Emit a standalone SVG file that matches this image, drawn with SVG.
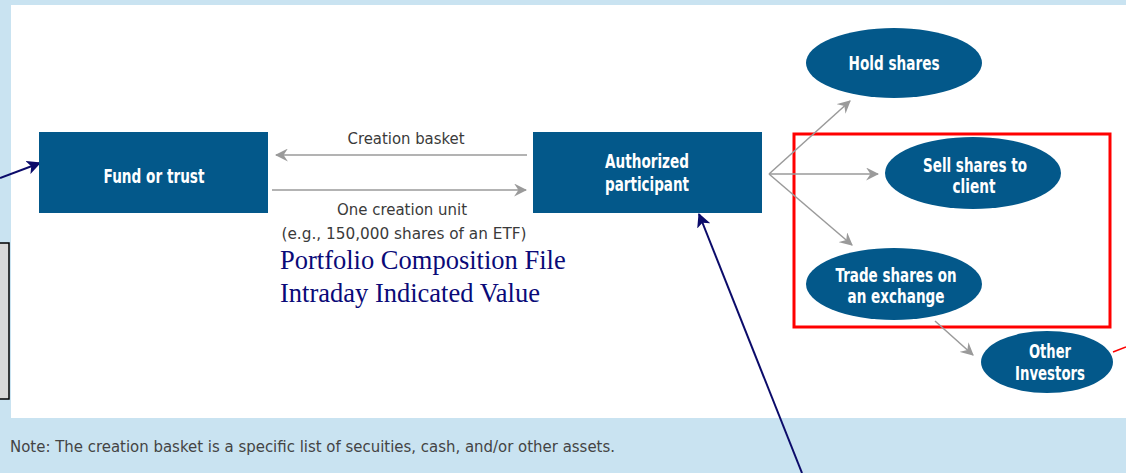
<svg xmlns="http://www.w3.org/2000/svg" width="1126" height="473" viewBox="0 0 1126 473">
<style>
.box{fill:#03588a;}
.lbl{font-family:"DejaVu Sans","Liberation Sans",sans-serif;font-weight:bold;fill:#fff;font-size:19px;text-anchor:middle;}
.edge{font-family:"DejaVu Sans","Liberation Sans",sans-serif;fill:#3a3a3a;font-size:16px;text-anchor:middle;}
.gray{stroke:#9a9a9a;stroke-width:1.5;fill:none;marker-end:url(#ga);}
.navy{stroke:#0b0b6a;stroke-width:2;fill:none;marker-end:url(#na);}
.tnr{font-family:"Liberation Serif",serif;fill:#0a0a78;font-size:26.5px;}
</style>
<defs>
<marker id="ga" viewBox="0 0 12 12" refX="11" refY="6" markerWidth="13" markerHeight="13" markerUnits="userSpaceOnUse" orient="auto">
<path d="M0,0 L12,6 L0,12 L4,6 z" fill="#9a9a9a"/>
</marker>
<marker id="na" viewBox="0 0 12 12" refX="11" refY="6" markerWidth="14" markerHeight="14" markerUnits="userSpaceOnUse" orient="auto">
<path d="M0,0 L12,6 L0,12 L3,6 z" fill="#0b0b6a"/>
</marker>
</defs>
<rect x="0" y="0" width="1126" height="473" fill="#c9e3f1"/>
<rect x="11" y="5" width="1115" height="413" fill="#ffffff"/>
<rect x="-2" y="243" width="11" height="156" fill="#d9d9d9" stroke="#000" stroke-width="1.5"/>
<rect x="794" y="134" width="316" height="193" fill="none" stroke="#ff0000" stroke-width="3"/>
<g id="connectors">
<line class="gray" x1="527" y1="155" x2="276" y2="155"/>
<line class="gray" x1="272" y1="190" x2="526" y2="190"/>
<line class="gray" x1="769" y1="174" x2="850" y2="101"/>
<line class="gray" x1="769" y1="174" x2="878" y2="174"/>
<line class="gray" x1="769" y1="174" x2="852" y2="245"/>
<line class="gray" x1="935" y1="321" x2="973" y2="355"/>
<line class="navy" x1="0" y1="178" x2="40" y2="163"/>
<line class="navy" x1="802" y1="473" x2="699" y2="214"/>
<line x1="1113" y1="352" x2="1126" y2="347" stroke="#ff0000" stroke-width="1.5"/>
<text class="edge" x="406" y="144" textLength="117" lengthAdjust="spacingAndGlyphs">Creation basket</text>
<text class="edge" x="402" y="215" textLength="130" lengthAdjust="spacingAndGlyphs">One creation unit</text>
<text class="edge" x="404" y="239" textLength="245" lengthAdjust="spacingAndGlyphs">(e.g., 150,000 shares of an ETF)</text>
</g>
<g id="fund">
<rect class="box" x="39" y="132" width="229" height="81"/>
<text class="lbl" x="154" y="183" textLength="101" lengthAdjust="spacingAndGlyphs">Fund or trust</text>
</g>
<g id="ap">
<rect class="box" x="533" y="132" width="229" height="81"/>
<text class="lbl" x="647" y="168" textLength="84" lengthAdjust="spacingAndGlyphs">Authorized</text>
<text class="lbl" x="647" y="191" textLength="84" lengthAdjust="spacingAndGlyphs">participant</text>
</g>
<g id="hold">
<ellipse class="box" cx="894" cy="63" rx="88" ry="35"/>
<text class="lbl" x="894" y="70" textLength="91" lengthAdjust="spacingAndGlyphs">Hold shares</text>
</g>
<g id="sell">
<ellipse class="box" cx="973" cy="173" rx="88" ry="36"/>
<text class="lbl" x="975" y="172" textLength="104" lengthAdjust="spacingAndGlyphs">Sell shares to</text>
<text class="lbl" x="974" y="193" textLength="43" lengthAdjust="spacingAndGlyphs">client</text>
</g>
<g id="trade">
<ellipse class="box" cx="894" cy="284" rx="88" ry="36"/>
<text class="lbl" x="896" y="282" textLength="121" lengthAdjust="spacingAndGlyphs">Trade shares on</text>
<text class="lbl" x="896" y="303" textLength="97" lengthAdjust="spacingAndGlyphs">an exchange</text>
</g>
<g id="other">
<ellipse class="box" cx="1047" cy="362" rx="66" ry="31"/>
<text class="lbl" x="1050" y="358" textLength="42" lengthAdjust="spacingAndGlyphs">Other</text>
<text class="lbl" x="1050" y="380" textLength="70" lengthAdjust="spacingAndGlyphs">Investors</text>
</g>
<g id="notes">
<text class="tnr" x="280" y="269">Portfolio Composition File</text>
<text class="tnr" x="280" y="302">Intraday Indicated Value</text>
<text x="10" y="452" font-family="DejaVu Sans, Liberation Sans, sans-serif" font-size="15" fill="#444" textLength="605" lengthAdjust="spacingAndGlyphs">Note: The creation basket is a specific list of secuities, cash, and/or other assets.</text>
</g>
</svg>
